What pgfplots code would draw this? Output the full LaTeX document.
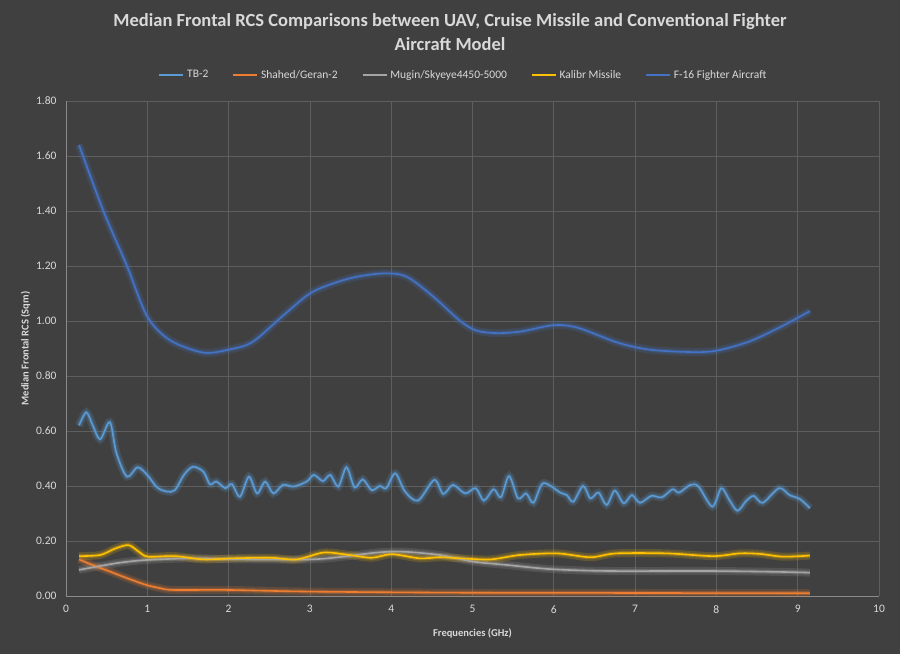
\documentclass[border=0pt]{standalone}
\usepackage{fontspec}
\setmainfont{Carlito}
\usepackage{pgfplots}
\pgfplotsset{compat=1.18}
\definecolor{bg}{HTML}{404040}
\definecolor{txt}{HTML}{D9D9D9}
\definecolor{gridc}{HTML}{5E5E5E}
\definecolor{axc}{HTML}{8A8A8A}
\definecolor{ctb}{HTML}{5B9BD5}
\definecolor{csh}{HTML}{ED7D31}
\definecolor{cmu}{HTML}{A5A5A5}
\definecolor{cka}{HTML}{FFC000}
\definecolor{cf}{HTML}{4472C4}
\pgfplotsset{
  glow/.style={line width=8pt, opacity=0.18, smooth, forget plot},
  glowb/.style={line width=4pt, opacity=0.28, smooth, forget plot},
  main/.style={line width=1.6pt, smooth},
}
\begin{document}
\begin{tikzpicture}
\path[use as bounding box, fill=bg] (0,0) rectangle (900pt,654pt);
\node[font=\fontsize{18.5}{24}\selectfont\bfseries, text=txt, align=center] at (450pt,622pt)
  {Median Frontal RCS Comparisons between UAV, Cruise Missile and Conventional Fighter\\Aircraft Model};
\begin{axis}[
  at={(66pt,58pt)}, anchor=south west,
  width=813pt, height=495pt, scale only axis,
  xmin=0, xmax=10, ymin=0, ymax=1.8,
  xtick={0,1,...,10}, ytick={0,0.2,...,1.8},
  /pgf/number format/assume math mode=true,
  yticklabel style={/pgf/number format/.cd, fixed, fixed zerofill, precision=2, /tikz/.cd, xshift=-6pt},
  xticklabel style={/pgf/number format/.cd, fixed, /tikz/.cd, yshift=-6pt},
  tick label style={font=\fontsize{11.5}{13}\selectfont, text=txt},
  major tick length=0pt,
  grid=major, major grid style={gridc, line width=0.8pt},
  axis line style={draw=none},
  axis x line*=bottom, axis y line*=left,
  xlabel={Frequencies (GHz)}, ylabel={Median Frontal RCS (Sqm)},
  label style={font=\fontsize{10.5}{12}\selectfont\bfseries, text=txt},
  xlabel style={yshift=-8pt},
  ylabel style={yshift=-1pt},
  legend columns=5,
  legend style={at={(0.489,1.0525)}, anchor=center, draw=none, fill=none,
    font=\fontsize{11.5}{13}\selectfont, text=txt,
    /tikz/every even column/.append style={column sep=22pt},
    /tikz/every odd column/.append style={column sep=1pt}},
  legend image code/.code={\draw[#1, line width=1.6pt] (0pt,0pt) -- (24pt,0pt);},
  clip=false,
]
\draw[axc, line width=0.8pt] (axis cs:0,0) -- (axis cs:10,0);
\draw[axc, line width=0.8pt] (axis cs:0,0) -- (axis cs:0,1.8);

\def\tbcoords{(0.16,0.62)(0.25,0.668)(0.33,0.62)(0.42,0.57)(0.54,0.632)(0.62,0.52)(0.75,0.434)(0.88,0.468)(1.0,0.44)(1.12,0.395)(1.24,0.38)(1.34,0.385)(1.45,0.44)(1.56,0.47)(1.69,0.452)(1.77,0.406)(1.85,0.416)(1.96,0.392)(2.04,0.407)(2.14,0.361)(2.25,0.434)(2.35,0.373)(2.45,0.416)(2.55,0.373)(2.67,0.404)(2.80,0.398)(2.96,0.416)(3.05,0.44)(3.16,0.418)(3.25,0.44)(3.35,0.398)(3.45,0.468)(3.55,0.395)(3.65,0.424)(3.76,0.385)(3.86,0.40)(3.94,0.392)(4.05,0.446)(4.17,0.38)(4.33,0.347)(4.53,0.422)(4.64,0.371)(4.76,0.404)(4.91,0.373)(5.04,0.392)(5.14,0.347)(5.26,0.388)(5.35,0.359)(5.45,0.436)(5.56,0.355)(5.66,0.373)(5.75,0.339)(5.87,0.41)(6.08,0.376)(6.16,0.367)(6.24,0.343)(6.36,0.40)(6.45,0.355)(6.55,0.376)(6.65,0.331)(6.75,0.383)(6.86,0.337)(6.96,0.367)(7.06,0.339)(7.20,0.364)(7.33,0.359)(7.46,0.388)(7.54,0.376)(7.68,0.404)(7.78,0.398)(7.95,0.325)(8.06,0.392)(8.16,0.349)(8.26,0.31)(8.37,0.347)(8.46,0.364)(8.57,0.339)(8.77,0.392)(8.90,0.367)(9.03,0.352)(9.15,0.319)}
\def\shcoords{(0.16,0.133)(0.35,0.11)(0.54,0.089)(0.75,0.065)(0.99,0.04)(1.15,0.029)(1.32,0.022)(1.98,0.022)(3.0,0.016)(4.85,0.012)(7.0,0.011)(9.15,0.01)}
\def\mucoords{(0.16,0.095)(0.4,0.108)(0.66,0.121)(0.99,0.131)(1.57,0.137)(2.18,0.133)(3.0,0.133)(3.41,0.143)(3.82,0.158)(4.15,0.161)(4.6,0.149)(5.01,0.125)(5.42,0.113)(5.95,0.098)(6.65,0.091)(7.88,0.091)(8.70,0.088)(9.15,0.085)}
\def\kacoords{(0.16,0.145)(0.42,0.149)(0.60,0.172)(0.77,0.185)(0.90,0.16)(1.01,0.143)(1.34,0.145)(1.69,0.133)(2.06,0.137)(2.51,0.139)(2.84,0.133)(3.17,0.158)(3.49,0.149)(3.76,0.139)(4.01,0.152)(4.35,0.137)(4.60,0.141)(4.85,0.137)(5.22,0.133)(5.58,0.149)(6.04,0.155)(6.45,0.141)(6.77,0.155)(7.39,0.155)(7.96,0.145)(8.29,0.155)(8.54,0.153)(8.82,0.143)(9.15,0.147)}
\def\fcoords{(0.16,1.64)(0.46,1.40)(0.75,1.20)(1.0,1.016)(1.28,0.93)(1.69,0.885)(2.02,0.897)(2.30,0.925)(2.71,1.03)(3.04,1.107)(3.49,1.155)(3.90,1.173)(4.19,1.161)(4.52,1.088)(4.85,1.0)(5.05,0.965)(5.3,0.956)(5.6,0.962)(6.0,0.985)(6.3,0.975)(6.8,0.92)(7.2,0.895)(7.7,0.887)(8.0,0.892)(8.4,0.925)(8.8,0.98)(9.15,1.036)}

\addplot[glow, color=ctb] coordinates {\tbcoords};
\addplot[glow, color=csh] coordinates {\shcoords};
\addplot[glow, color=cmu] coordinates {\mucoords};
\addplot[glow, color=cka] coordinates {\kacoords};
\addplot[glow, color=cf] coordinates {\fcoords};
\addplot[glowb, color=ctb] coordinates {\tbcoords};
\addplot[glowb, color=csh] coordinates {\shcoords};
\addplot[glowb, color=cmu] coordinates {\mucoords};
\addplot[glowb, color=cka] coordinates {\kacoords};
\addplot[glowb, color=cf] coordinates {\fcoords};

\addplot[main, color=ctb] coordinates {\tbcoords};
\addlegendentry{TB-2}
\addplot[main, color=csh] coordinates {\shcoords};
\addlegendentry{Shahed/Geran-2}
\addplot[main, color=cmu] coordinates {\mucoords};
\addlegendentry{Mugin/Skyeye4450-5000}
\addplot[main, color=cka] coordinates {\kacoords};
\addlegendentry{Kalibr Missile}
\addplot[main, color=cf] coordinates {\fcoords};
\addlegendentry{F-16 Fighter Aircraft}
\end{axis}
\end{tikzpicture}
\end{document}
